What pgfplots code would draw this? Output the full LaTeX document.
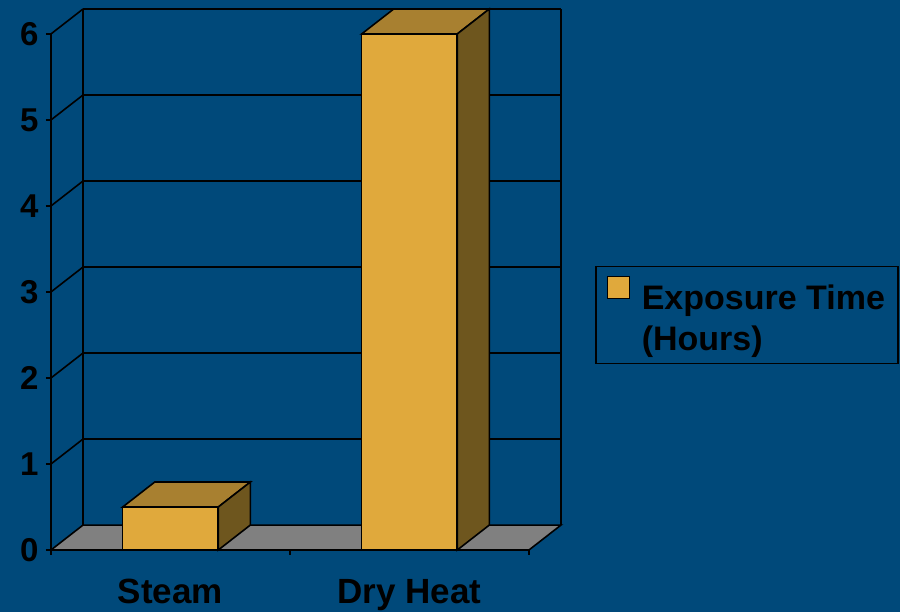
\documentclass[border=0pt]{standalone}
\usepackage{pgfplots}
\pgfplotsset{compat=1.18}
\usepackage{fontspec}
\setmainfont{Liberation Sans}
\definecolor{bg}{RGB}{0,73,122}
\definecolor{goldF}{RGB}{224,169,60}
\definecolor{goldT}{RGB}{168,128,48}
\definecolor{goldS}{RGB}{110,86,30}
\definecolor{floorgray}{RGB}{128,128,128}
\begin{document}
\begin{tikzpicture}
\fill[bg] (0,0) rectangle (900pt,612pt);
\begin{axis}[
  at={(51pt,62pt)}, anchor=south west,
  scale only axis, width=510pt, height=541pt,
  xmin=0, xmax=2.134, ymin=0, ymax=6.29,
  clip=false,
  axis x line*=bottom, axis y line*=left,
  axis line style={draw=none},
  tick align=outside,
  major tick length=5pt,
  tick style={black, line width=1.6pt},
  xtick={0,1,2}, xticklabels={Steam,Dry Heat}, x tick label as interval,
  ytick={0,1,2,3,4,5,6},
  /pgf/number format/assume math mode=true,
  ticklabel style={font=\bfseries\fontsize{35}{40}\selectfont, text=black},
  yticklabel style={font=\bfseries\fontsize{33}{38}\selectfont, xshift=-4pt},
  xticklabel style={yshift=-21pt},
  legend style={at={(1.0667,0.525)}, anchor=north west, draw=black, line width=1.5pt,
    fill=none, text=black, font=\bfseries\fontsize{34}{40}\selectfont,
    inner xsep=11pt, inner ysep=9pt, row sep=11pt},
  legend cell align=left,
]
% back wall grid lines
\addplot[black, line width=1.6pt, forget plot] coordinates {(0.134,1.29) (2.134,1.29)};
\addplot[black, line width=1.6pt, forget plot] coordinates {(0.134,2.29) (2.134,2.29)};
\addplot[black, line width=1.6pt, forget plot] coordinates {(0.134,3.29) (2.134,3.29)};
\addplot[black, line width=1.6pt, forget plot] coordinates {(0.134,4.29) (2.134,4.29)};
\addplot[black, line width=1.6pt, forget plot] coordinates {(0.134,5.29) (2.134,5.29)};
\addplot[black, line width=1.6pt, forget plot] coordinates {(0.134,6.29) (2.134,6.29)};
% side wall diagonals
\addplot[black, line width=1.6pt, forget plot] coordinates {(0,1) (0.134,1.29)};
\addplot[black, line width=1.6pt, forget plot] coordinates {(0,2) (0.134,2.29)};
\addplot[black, line width=1.6pt, forget plot] coordinates {(0,3) (0.134,3.29)};
\addplot[black, line width=1.6pt, forget plot] coordinates {(0,4) (0.134,4.29)};
\addplot[black, line width=1.6pt, forget plot] coordinates {(0,5) (0.134,5.29)};
\addplot[black, line width=1.6pt, forget plot] coordinates {(0,6) (0.134,6.29)};
% wall verticals
\addplot[black, line width=1.6pt, forget plot] coordinates {(0.134,0.29) (0.134,6.29)};
\addplot[black, line width=1.6pt, forget plot] coordinates {(2.134,0.29) (2.134,6.29)};
\addplot[black, line width=1.6pt, forget plot] coordinates {(0,0) (0,6)};
% floor
\addplot[fill=floorgray, draw=black, line width=1.6pt, forget plot] coordinates {(0,0) (2,0) (2.134,0.29) (0.134,0.29)} --cycle;
% bars: front faces
\addplot[ybar, bar width=0.4, fill=goldF, draw=black, line width=1.6pt,
  legend image code/.code={\path[draw=none,fill=none] (-1pt,0pt) rectangle (32pt,1pt);\draw[fill=goldF, draw=black, line width=1pt] (0pt,-0pt) rectangle (22pt,22pt);}]
  coordinates {(0.5,0.5) (1.5,6)};
\addlegendentry{Exposure Time}
\addlegendimage{empty legend}
\addlegendentry{(Hours)}
% Steam top and side
\addplot[fill=goldT, draw=black, line width=1.6pt, forget plot] coordinates {(0.3,0.5) (0.7,0.5) (0.834,0.79) (0.434,0.79)} --cycle;
\addplot[fill=goldS, draw=black, line width=1.6pt, forget plot] coordinates {(0.7,0) (0.834,0.29) (0.834,0.79) (0.7,0.5)} --cycle;
% Dry Heat top and side
\addplot[fill=goldT, draw=black, line width=1.6pt, forget plot] coordinates {(1.3,6) (1.7,6) (1.834,6.29) (1.434,6.29)} --cycle;
\addplot[fill=goldS, draw=black, line width=1.6pt, forget plot] coordinates {(1.7,0) (1.834,0.29) (1.834,6.29) (1.7,6)} --cycle;
\end{axis}
\pgfresetboundingbox
\useasboundingbox (0,0) rectangle (900pt,612pt);
\end{tikzpicture}
\end{document}
